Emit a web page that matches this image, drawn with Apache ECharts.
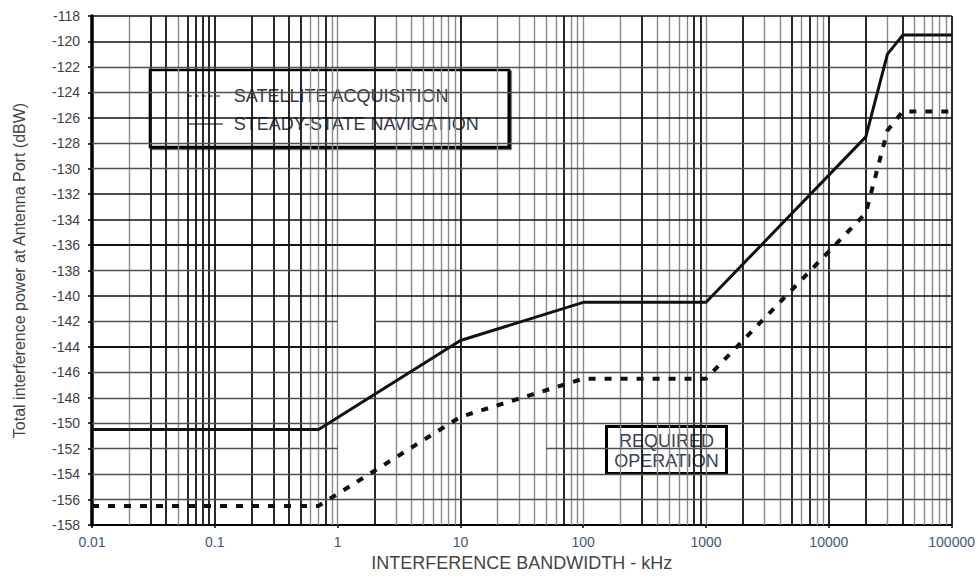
<!DOCTYPE html>
<html>
<head>
<meta charset="utf-8">
<script src="https://cdn.jsdelivr.net/npm/echarts@6/dist/echarts.min.js"></script>
<style>
  html, body { margin: 0; padding: 0; background: #fff; }
  #chart { width: 978px; height: 578px; }
</style>
</head>
<body>
<div id="chart"></div>
<script>
// Interference bandwidth breakpoints (kHz) and total interference power (dBW)
const navBandwidth = [0.01, 0.7, 10, 100, 1000, 20000, 30000, 40000, 100000];
const navPower     = [-150.5, -150.5, -143.5, -140.5, -140.5, -127.5, -121, -119.5, -119.5];

const acqBandwidth = [0.01, 0.7, 10, 100, 1000, 20000, 30000, 40000, 100000];
const acqPower     = [-156.5, -156.5, -149.5, -146.5, -146.5, -133.5, -127, -125.5, -125.5];

const seriesNames = ['SATELLITE ACQUISITION', 'STEADY-STATE NAVIGATION'];

// Axis tick labels (one per decade) and power scale
const xTickLabels = ['0.01', '0.1', '1', '10', '100', '1000', '10000', '100000'];
const decades = [0.01, 0.1, 1, 10, 100, 1000, 10000];
const yMin = -158, yMax = -118, yStep = 2;

// Grid lines drawn heavier on the log paper
const darkVertical = [0.03, 0.04, 0.06, 0.07, 0.08, 0.09, 0.1, 0.2, 0.3, 0.4, 0.5, 0.8,
                      2, 10, 70, 300, 800, 900, 2000, 5000, 7000, 10000, 20000, 40000, 100000];
const darkHorizontal = [-118, -120, -126, -132, -134, -136, -140, -144];
const thickHorizontal = [-136, -144];

const FONT = '"Liberation Sans", Arial, sans-serif';

function pairs(xs, ys) { return xs.map((x, i) => [x, ys[i]]); }
function near(a, b) { return Math.abs(a - b) < 1e-9 * Math.max(1, Math.abs(b)); }

// Log-paper vertical lines at 1..9 of every decade
const gridLines = [];
decades.forEach(d => {
  for (let k = 1; k <= 9; k++) {
    const v = Number((k * d).toPrecision(6));
    if (v === 0.01) continue;
    const dark = darkVertical.some(x => near(x, v));
    gridLines.push({
      xAxis: v,
      lineStyle: { color: dark ? '#111' : '#8a8a8a', width: dark ? 1.8 : 1.4, type: 'solid' }
    });
  }
});
gridLines.push({ xAxis: 100000, lineStyle: { color: '#111', width: 1.8, type: 'solid' } });

// Horizontal lines every 2 dB; two rows are broken on the original paper
const brokenRows = {
  '-142': [[0.01, 1], [2, 100000]],
  '-152': [[0.01, 1], [50, 100000]]
};
for (let y = yMin + yStep; y <= yMax; y += yStep) {
  const dark = darkHorizontal.includes(y);
  const style = {
    color: dark ? '#111' : '#505050',
    width: thickHorizontal.includes(y) ? 2.2 : (dark ? 1.6 : 1.3),
    type: 'solid'
  };
  const spans = brokenRows[String(y)];
  if (spans) {
    spans.forEach(s => gridLines.push([{ coord: [s[0], y], lineStyle: style }, { coord: [s[1], y] }]));
  } else {
    gridLines.push({ yAxis: y, lineStyle: style });
  }
}

const chart = echarts.init(document.getElementById('chart'), null, { renderer: 'svg' });

chart.setOption({
  animation: false,
  backgroundColor: '#ffffff',
  color: ['#111', '#111'],
  grid: { left: 92, right: 25, top: 16, bottom: 53, containLabel: false },
  legend: {
    data: [
      {
        name: seriesNames[0],
        itemStyle: { opacity: 0 },
        lineStyle: { type: [4, 3], width: 1.5, color: '#666' }
      },
      {
        name: seriesNames[1],
        itemStyle: { opacity: 0 },
        lineStyle: { type: 'solid', width: 1.5, color: '#555' }
      }
    ],
    orient: 'vertical',
    left: 150,
    top: 70,
    padding: [17, 30, 14, 37],
    itemGap: 10,
    itemWidth: 35,
    itemHeight: 14,
    selectedMode: false,
    backgroundColor: '#fff',
    borderColor: '#000',
    borderWidth: 2.6,
    shadowColor: 'rgba(0,0,0,0.9)',
    shadowBlur: 0,
    shadowOffsetX: 1.5,
    shadowOffsetY: 1.5,
    textStyle: { fontFamily: FONT, fontSize: 18, color: '#353846', padding: [0, 0, 0, 6] }
  },
  xAxis: {
    type: 'log',
    logBase: 10,
    min: 0.01,
    max: 100000,
    splitNumber: 7,
    name: 'INTERFERENCE BANDWIDTH - kHz',
    nameLocation: 'middle',
    nameGap: 29,
    nameTextStyle: { fontFamily: FONT, fontSize: 18, color: '#444' },
    axisLine: { show: true, onZero: false, lineStyle: { color: '#000', width: 2 } },
    axisTick: { show: true, length: 3, lineStyle: { color: '#000', width: 1.5 } },
    axisLabel: {
      margin: 10,
      fontFamily: FONT,
      fontSize: 14,
      color: '#3f5878',
      formatter: v => xTickLabels[Math.round(Math.log10(v)) + 2]
    },
    splitLine: { show: false },
    minorTick: { show: false },
    minorSplitLine: { show: false }
  },
  yAxis: {
    type: 'value',
    min: yMin,
    max: yMax,
    interval: yStep,
    name: 'Total interference power at Antenna Port (dBW)',
    nameLocation: 'middle',
    nameGap: 65,
    nameTextStyle: { fontFamily: FONT, fontSize: 16, color: '#444' },
    axisLine: { show: true, lineStyle: { color: '#000', width: 3.5 } },
    axisTick: { show: true, length: 4, lineStyle: { color: '#000', width: 1.5 } },
    axisLabel: {
      margin: 12,
      fontFamily: FONT,
      fontSize: 14,
      color: '#3a3f4c'
    },
    splitLine: { show: false }
  },
  series: [
    {
      name: 'grid-paper',
      type: 'line',
      data: [],
      z: 1,
      silent: true,
      markLine: {
        silent: true,
        animation: false,
        symbol: ['none', 'none'],
        label: { show: false },
        emphasis: { disabled: true },
        data: gridLines
      }
    },
    {
      name: seriesNames[0],
      type: 'line',
      z: 5,
      data: pairs(acqBandwidth, acqPower),
      showSymbol: false,
      symbol: 'none',
      lineStyle: { color: '#111', width: 4, type: [7, 9], cap: 'butt' }
    },
    {
      name: seriesNames[1],
      type: 'line',
      z: 5,
      data: pairs(navBandwidth, navPower),
      showSymbol: false,
      symbol: 'none',
      lineStyle: { color: '#111', width: 3, type: 'solid' }
    }
  ],
  graphic: [
    {
      type: 'group',
      left: 605,
      top: 425,
      z: 20,
      children: [
        {
          type: 'rect',
          shape: { x: 0, y: 0, width: 120, height: 47 },
          style: { fill: '#fff', stroke: '#000', lineWidth: 3 }
        },
        {
          type: 'text',
          style: {
            x: 60, y: 24,
            text: 'REQUIRED\nOPERATION',
            align: 'center',
            verticalAlign: 'middle',
            lineHeight: 20,
            font: '18px "Liberation Sans", Arial, sans-serif',
            fill: '#3a3f55'
          }
        }
      ]
    }
  ]
});
</script>
</body>
</html>
